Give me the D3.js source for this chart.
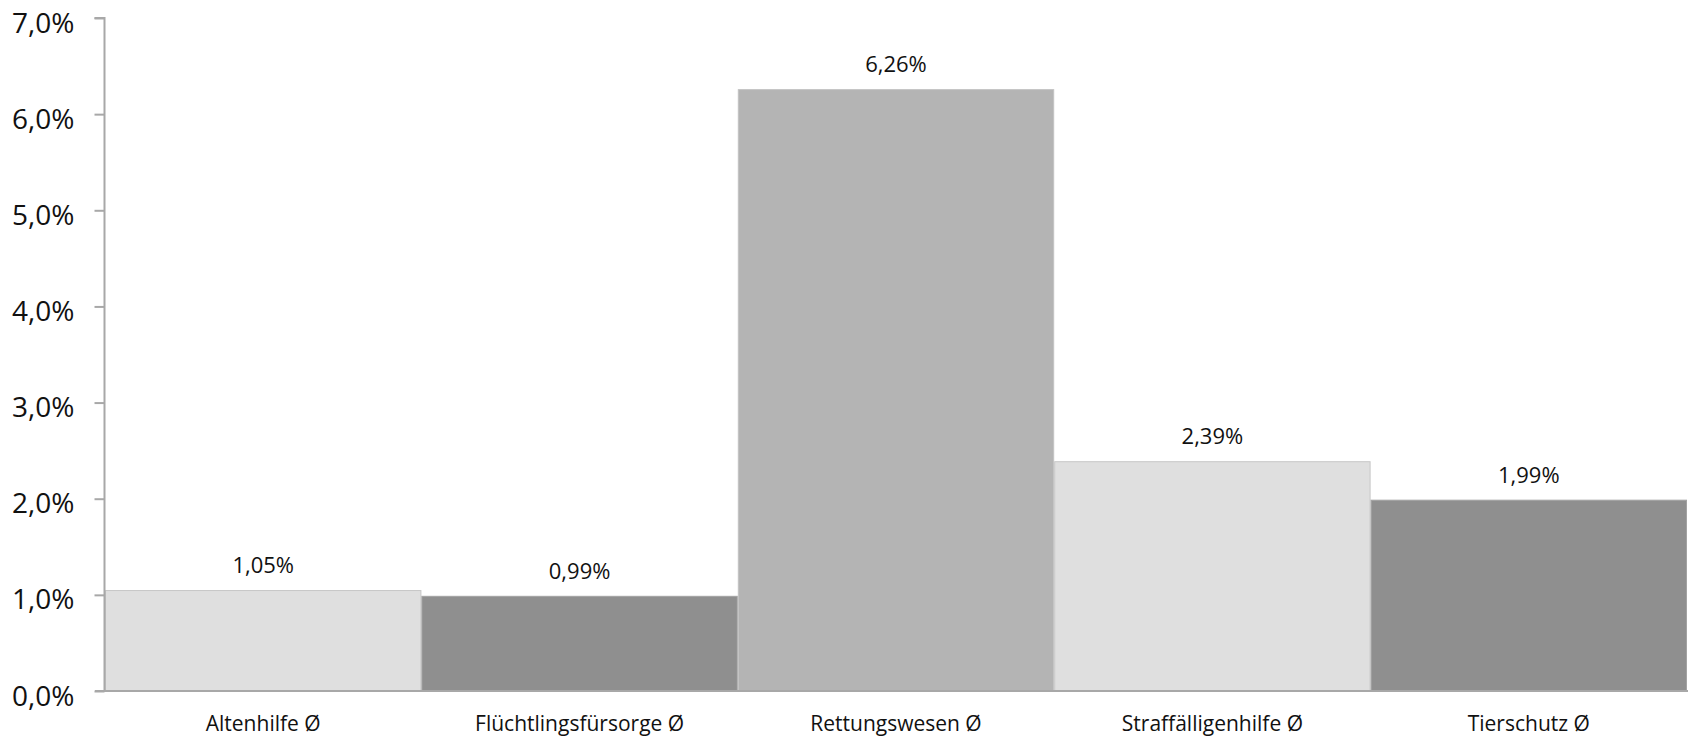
<!DOCTYPE html>
<html><head><meta charset="utf-8">
<script src="https://cdn.jsdelivr.net/npm/d3@7/dist/d3.min.js"></script>
<style>body{margin:0;background:#fff;} svg{display:block;} text{font-family:"Open Sans",sans-serif;fill:#111;}</style>
</head><body>
<svg id="c" width="1688" height="736"></svg>
<script>
const categories = ["Altenhilfe Ø","Flüchtlingsfürsorge Ø","Rettungswesen Ø","Straffälligenhilfe Ø","Tierschutz Ø"];
const values = [1.05, 0.99, 6.26, 2.39, 1.99];
const valueLabels = ["1,05%","0,99%","6,26%","2,39%","1,99%"];
const colors = ["#dfdfdf","#8f8f8f","#b4b4b4","#dfdfdf","#8f8f8f"];
const strokes = ["#c6c6c6","#a3a3a3","#c2c2c2","#c6c6c6","#a3a3a3"];
const yTicks = [0,1,2,3,4,5,6,7];

const svg = d3.select("#c");
const m = {left:105, right:1687, top:18, bottom:691};
const x = d3.scaleBand().domain(categories).range([m.left, m.right]).padding(0);
const y = d3.scaleLinear().domain([0,7]).range([m.bottom, m.top]);

svg.selectAll("rect.bar").data(values).join("rect")
  .attr("class","bar")
  .attr("x",(d,i)=>x(categories[i])+0.5)
  .attr("width",x.bandwidth()-1)
  .attr("y",d=>y(d)+0.5)
  .attr("height",d=>y(0)-y(d)-0.5)
  .attr("fill",(d,i)=>colors[i])
  .attr("stroke",(d,i)=>strokes[i])
  .attr("stroke-width",1);

svg.selectAll("text.val").data(values).join("text")
  .attr("class","val")
  .attr("x",(d,i)=>x(categories[i])+x.bandwidth()/2)
  .attr("y",d=>y(d)-17)
  .attr("text-anchor","middle")
  .attr("font-size",22)
  .text((d,i)=>valueLabels[i]);

const yAxis = d3.axisLeft(y).tickValues(yTicks).tickSize(10).tickPadding(20)
  .tickFormat(d=>d.toFixed(1).replace(".",",")+"%");
const gy = svg.append("g").attr("transform",`translate(${m.left-0.5},0)`).call(yAxis);
gy.select(".domain").attr("stroke","#a8a8a8").attr("stroke-width",2).attr("d",`M-10,${y(7)}H0V${y(0)}`);
gy.selectAll(".tick line").attr("stroke","#a8a8a8").attr("stroke-width",2);
gy.selectAll(".tick text").attr("font-size",28).attr("fill","#111").attr("dy","0.5em").style("font-family","'Open Sans',sans-serif");

const xAxis = d3.axisBottom(x).tickSize(0).tickPadding(25);
const gx = svg.append("g").attr("transform",`translate(0,${m.bottom})`).call(xAxis);
gx.select(".domain").attr("stroke","#a8a8a8").attr("stroke-width",2).attr("d",`M${m.left-10},0H${m.right+1}`);
gx.selectAll(".tick text").attr("font-size",21).attr("fill","#111").style("font-family","'Open Sans',sans-serif");
</script>
</body></html>
